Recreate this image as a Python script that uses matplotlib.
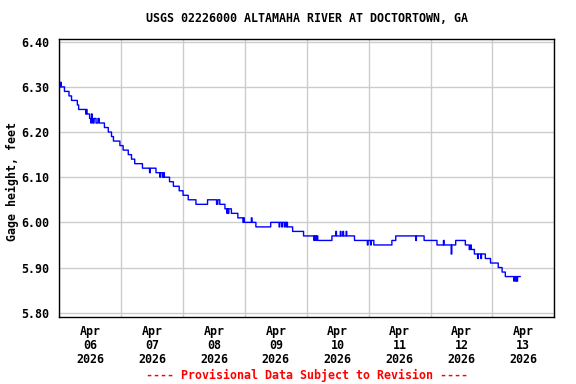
import numpy as np
import matplotlib
matplotlib.use("Agg")
import matplotlib.pyplot as plt

# gage height readings (feet), step changes: hour since Apr 06 00:00 -> level
step_hours = [0.0, 0.6, 2.0, 3.7, 4.6, 6.8, 7.5, 10.7, 11.7, 13.0, 13.5, 14.2,
              14.8, 15.4, 17.5, 18.8, 20.1, 21.0, 23.4, 24.6, 26.6, 27.9, 29.2,
              32.1, 37.5, 39.9, 42.7, 44.2, 46.3, 47.9, 50.0, 52.8, 57.5, 60.8,
              61.3, 62.1, 64.2, 66.6, 69.1, 71.1, 76.2, 82.0, 88.5, 90.4, 94.7,
              100.1, 105.7, 114.3, 122.0, 128.9, 130.4, 141.4, 146.5, 153.6,
              157.5, 158.8, 161.0, 165.2, 167.2, 170.1, 171.7, 173.0]
step_levels = [6.31, 6.30, 6.29, 6.28, 6.27, 6.26, 6.25, 6.24, 6.23, 6.22, 6.23, 6.22,
               6.23, 6.22, 6.21, 6.20, 6.19, 6.18, 6.17, 6.16, 6.15, 6.14, 6.13,
               6.12, 6.11, 6.10, 6.09, 6.08, 6.07, 6.06, 6.05, 6.04, 6.05, 6.04,
               6.05, 6.04, 6.03, 6.02, 6.01, 6.00, 5.99, 6.00, 5.99, 5.98, 5.97,
               5.96, 5.97, 5.96, 5.95, 5.96, 5.97, 5.96, 5.95, 5.96,
               5.95, 5.94, 5.93, 5.92, 5.91, 5.90, 5.89, 5.88]

# single-reading blips
spike_hours = [0.3, 10.2, 10.5, 12.2, 12.6, 35.1, 39.0, 40.5, 65.0, 65.6, 71.6,
               74.4, 85.3, 86.3, 87.2, 88.0, 90.4, 98.8, 99.5, 107.2, 108.9,
               110.0, 111.3, 119.4, 120.7, 138.2, 149.1, 152.0, 159.6, 160.4,
               162.3, 163.6, 176.3, 177.0, 177.6]
spike_levels = [6.30, 6.24, 6.25, 6.22, 6.24, 6.11, 6.10, 6.11, 6.02, 6.02, 6.01,
                6.01, 5.99, 5.99, 5.99, 5.99, 5.98, 5.96, 5.96, 5.98, 5.98,
                5.98, 5.98, 5.95, 5.95, 5.96, 5.96, 5.93, 5.95, 5.94,
                5.92, 5.92, 5.87, 5.87, 5.87]
end_hour = 178.75

day_labels = ["Apr\n06\n2026", "Apr\n07\n2026", "Apr\n08\n2026", "Apr\n09\n2026",
              "Apr\n10\n2026", "Apr\n11\n2026", "Apr\n12\n2026", "Apr\n13\n2026"]

# 15-minute series
t = np.arange(0, end_hour + 0.01, 0.25)
idx = np.searchsorted(step_hours, t, side="right") - 1
gage = np.array(step_levels)[idx]
for h, v in zip(spike_hours, spike_levels):
    gage[int(round(h / 0.25))] = v

font = {"family": "DejaVu Sans Mono", "weight": "bold", "size": 8.4}

fig = plt.figure(figsize=(5.76, 3.84), dpi=100)
ax = fig.add_axes([59.3 / 576, 1 - 317 / 384, (554.3 - 59.3) / 576, (317 - 39) / 384])

ax.plot(t, gage, color="#0000ff", lw=1.0, drawstyle="steps-post")

ax.set_xlim(0, 192)
ax.set_ylim(5.7905, 6.406)
ax.set_xticks(np.arange(12, 192, 24))
ax.set_xticklabels(day_labels, fontdict=font, linespacing=1.07)
ax.set_xticks(np.arange(0, 193, 24), minor=True)
yt = np.arange(5.80, 6.401, 0.10)
ax.set_yticks(yt)
ax.set_yticklabels(["%.2f" % v for v in yt], fontdict=font)
ax.tick_params(axis="both", which="both", length=0)
ax.tick_params(axis="y", pad=7)
ax.tick_params(axis="x", pad=6)
ax.grid(axis="x", which="minor", color="#cccccc", lw=1.0)
ax.grid(axis="y", which="major", color="#cccccc", lw=1.0)
ax.set_axisbelow(True)
for s in ax.spines.values():
    s.set_linewidth(1.0)

xc = 306.8 / 576
fig.text(xc, 1 - 19 / 384, "USGS 02226000 ALTAMAHA RIVER AT DOCTORTOWN, GA",
         ha="center", va="center", **font)
fig.text(12 / 576, 1 - 182 / 384, "Gage height, feet", rotation=90,
         ha="center", va="center", **font)
fig.text(xc, 1 - 375 / 384, "---- Provisional Data Subject to Revision ----",
         ha="center", va="center", color="red", **font)

fig.savefig("out.png", dpi=100)
